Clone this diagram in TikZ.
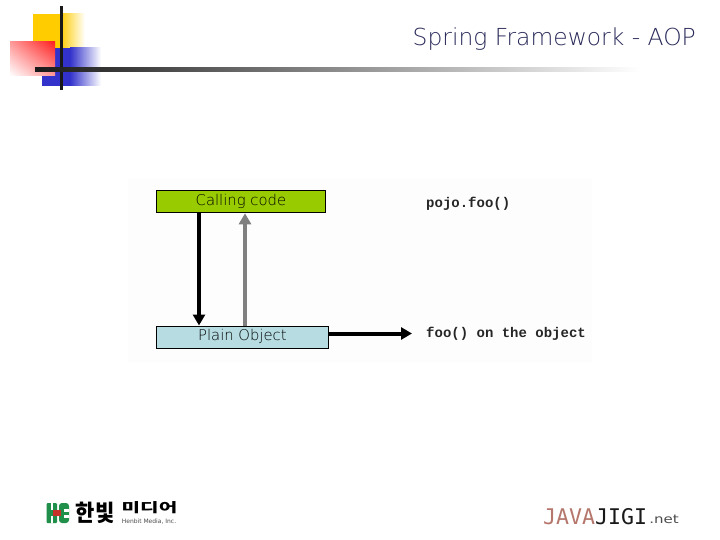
\documentclass[tikz,border=0pt]{standalone}
\usepackage{fontspec}
\setmainfont{DejaVu Sans}
\newfontfamily\uifont{DejaVu Sans}
\newfontfamily\lightfont{DejaVu Sans ExtraLight}
\newfontfamily\codefont{Liberation Mono}[BoldFont={Liberation Mono Bold}]
\newfontfamily\brandfont{DejaVu Sans Mono}
\newfontfamily\krfont{Noto Sans CJK KR}
\usetikzlibrary{arrows.meta,fadings,shadings}
\definecolor{boxgreen}{HTML}{99CC00}
\definecolor{boxblue}{HTML}{B7DDE3}
\definecolor{titleink}{HTML}{2A2A5A}
\definecolor{decoyellow}{HTML}{FFCC00}
\definecolor{decoblue}{HTML}{3333CC}
\definecolor{decored}{HTML}{FF2020}
\definecolor{logogreen}{HTML}{1F8F4A}
\definecolor{logored}{HTML}{C8302A}
\definecolor{javared}{HTML}{B5766C}
\tikzset{
  flowbox/.style={draw=black,line width=0.8pt,minimum height=22pt,inner sep=0pt,anchor=north west,font=\lightfont\fontsize{14.8}{16}\selectfont,text=black},
  flowarrow/.style={line width=4pt,-{Triangle[length=11pt,width=12pt]}},
  codelabel/.style={anchor=west,inner sep=0pt,font=\codefont\bfseries\fontsize{14}{15}\selectfont,text=black!85},
}
\begin{document}
\begin{tikzpicture}[x=1pt,y=-1pt]
\useasboundingbox (0,0) rectangle (720,540);
\fill[white] (0,0) rectangle (720,540);
% decoration
\shade[left color=decoyellow,right color=white] (60,14) rectangle (85,48);
\fill[decoyellow] (33,14) rectangle (62,48);
\shade[left color=decoblue,right color=white] (70,48) rectangle (101,86);
\fill[decoblue] (42,48) rectangle (71,86);
\shade[lower left=white,upper right=decored,upper left=decored!45!white,lower right=decored!45!white] (10,42) rectangle (55,76);
\fill[black!90] (59.5,6) rectangle (62.5,90);
\shade[left color=black!90,right color=white] (35,68) rectangle (640,72);
% picture backdrop
\fill[black!0.7] (128,178) rectangle (592,362);
% title
\node[anchor=east,inner sep=0pt,text=titleink,font=\lightfont\fontsize{23.4}{26}\selectfont] (title) at (696,39.5) {Spring Framework - AOP};
% diagram
\node[flowbox,fill=boxgreen,minimum width=169pt] (calling) at (156,190.5) {Calling code};
\node[flowbox,fill=boxblue,minimum width=172pt] (plain) at (156,325.5) {Plain Object};
\node[codelabel] (pojo) at (426,203.5) {pojo.foo()};
\node[codelabel] (fooobj) at (426,333.5) {foo() on the object};
\draw[flowarrow,black] ([xshift=43pt]calling.south west) -- ([xshift=43pt]plain.north west);
\draw[flowarrow,black!50] ([xshift=89pt]plain.north west) -- ([xshift=89pt]calling.south west);
\draw[flowarrow,black,shorten >=14pt] (plain.east |- fooobj.west) -- (fooobj.west);
% Henbit logo
\fill[logogreen,rounded corners=1pt] (46.5,503) rectangle (57,523);
\fill[logogreen,rounded corners=3pt] (59,503) rectangle (69,523);
\fill[white] (51,503) rectangle (53,510);
\fill[white] (51,516) rectangle (53,523);
\fill[white] (64,508.5) rectangle (69,511.5);
\fill[white] (64,514.5) rectangle (69,517.5);
\fill[logored] (53,510) rectangle (61,516);
\node[inner sep=0pt,text=black,font=\krfont\bfseries\fontsize{20}{22}\selectfont,xscale=1.05,yscale=1.15] (hanbit) at (95,512.5) {한빛};
\node[inner sep=0pt,text=black,font=\krfont\bfseries\fontsize{13}{14}\selectfont,xscale=1.55] (media) at (149.5,507.5) {미디어};
\node[inner sep=0pt,text=black!70,font=\uifont\fontsize{6}{7}\selectfont] (henbit) at (149,521.5) {Henbit Media, Inc.};
% Javajigi logo
\node[anchor=west,inner sep=0pt,font=\brandfont\fontsize{21.6}{23}\selectfont] (java) at (543,517) {\textcolor{javared}{JAVA}\textcolor{black!90}{JIGI}};
\node[anchor=west,inner sep=0pt,text=black!70,font=\uifont\fontsize{12}{13}\selectfont,xscale=1.25] (net) at (649,519) {.net};
\end{tikzpicture}
\end{document}
